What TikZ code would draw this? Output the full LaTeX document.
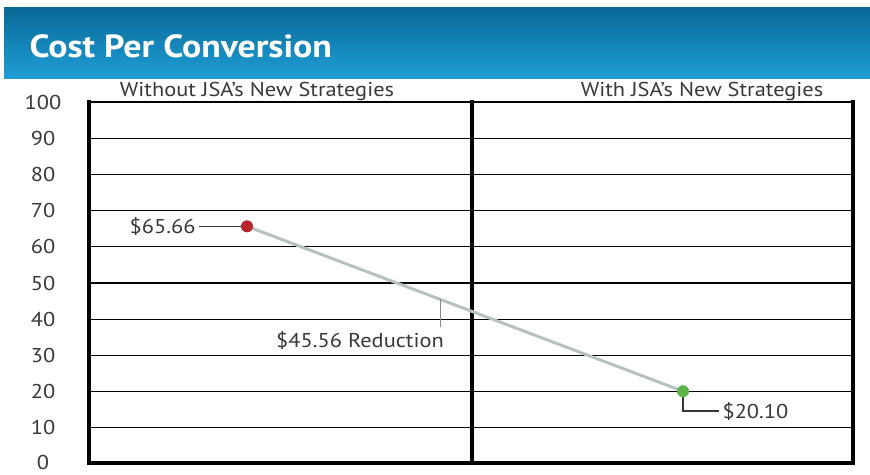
\documentclass[tikz,border=0pt]{standalone}
\usepackage{fontspec}
\setmainfont[FakeStretch=1.12]{PT Sans}
\usetikzlibrary{arrows,calc}
\definecolor{kopfdunkel}{HTML}{0A6896}
\definecolor{kopfhell}{HTML}{1E9ED6}
\definecolor{schrift}{HTML}{383838}
\definecolor{punktrot}{HTML}{B5252B}
\definecolor{punktgruen}{HTML}{5AB548}
\definecolor{verlauf}{HTML}{B8C1C1}
\definecolor{zeiger}{HTML}{8A8A8A}

\begin{document}
\begin{tikzpicture}[x=1pt,y=-1pt,
		beschriftung/.style={text=schrift,font=\fontsize{20}{20}\selectfont},
		punkt/.style={circle,inner sep=0pt,minimum size=12pt}]
		\useasboundingbox (0,0) rectangle (870,474);
		%Kopfzeile
		\shade[top color=kopfdunkel,bottom color=kopfhell] (4,7) rectangle (870,78);
		\node[anchor=west,text=white,font=\bfseries\fontsize{32}{32}\selectfont] (titel) at (26,46) {Cost Per Conversion};
		%Gitter und Achsen
		\foreach \w in {10,20,...,100}
		{
			\draw[line width=1.3pt] (88,{464-3.62*\w}) -- (853,{464-3.62*\w});
		}
		\foreach \w in {10,20,...,100}
		{
			\node[beschriftung] (y\w) at (43,{464-3.62*\w}) {\w};
		}
		\node[beschriftung] (y0) at (43,462) {0};
		\draw[line width=4.5pt] (89,100) -- (89,463) -- (853,463) -- (853,100);
		\draw[line width=4.5pt] (472,100) -- (472,463);
		\node[beschriftung] (ohne) at (257,91) {Without JSA’s New Strategies};
		\node[beschriftung] (mit) at (702,91) {With JSA’s New Strategies};
		%Werte
		\coordinate (altpos) at (247,{464-3.62*65.66});
		\coordinate (neupos) at (683,{464-3.62*20.10});
		\coordinate (mitte) at ($(altpos)!0.443!(neupos)$);
		\draw[verlauf,line width=3pt] (altpos) -- (neupos);
		\node[beschriftung,anchor=east] (altwert) at (199,{464-3.62*65.66}) {\$65.66};
		\node[beschriftung] (reduktion) at (360,340) {\$45.56 Reduction};
		\node[beschriftung,anchor=west] (neuwert) at (719,411) {\$20.10};
		\draw[schrift,line width=1.2pt] (altwert) -- (altpos);
		\draw[zeiger,line width=1pt] (mitte) -- (mitte |- reduktion.north);
		\draw[schrift,line width=1.2pt] (neupos) |- (neuwert);
		\node[punkt,fill=punktrot] (alt) at (altpos) {};
		\node[punkt,fill=punktgruen] (neu) at (neupos) {};
	\end{tikzpicture}
\end{document}
